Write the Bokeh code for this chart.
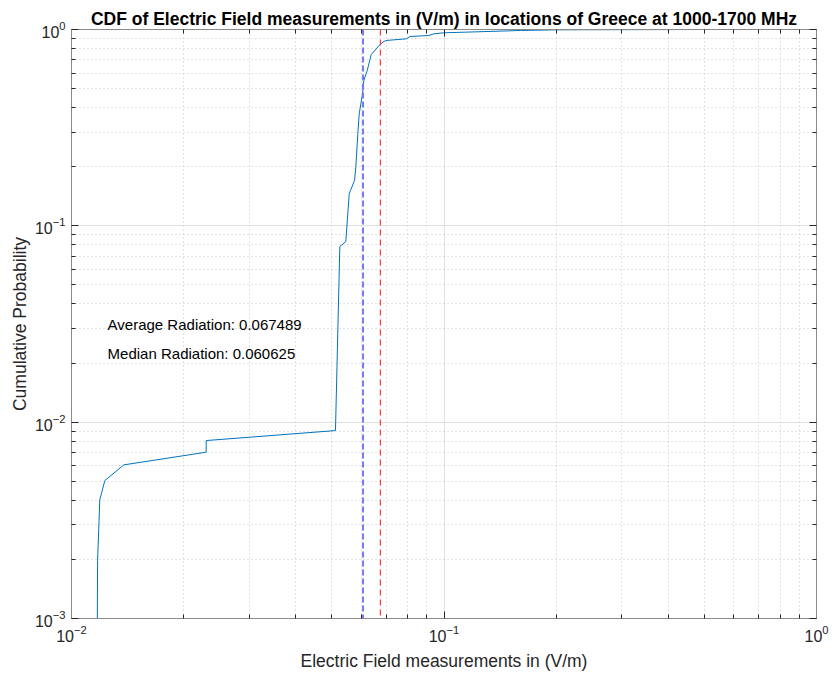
from bokeh.plotting import figure
from bokeh.models import Span, LogAxis, FixedTicker, CustomJSTickFormatter
from bokeh.core.properties import value
from bokeh.embed import file_html
from bokeh.resources import INLINE

# ---- data ----
cdf_x = [0.01173, 0.01175, 0.01191, 0.01229, 0.01382, 0.02299, 0.02299, 0.05113,
         0.05252, 0.05450, 0.05566, 0.05610, 0.05751, 0.05798, 0.05870, 0.05921,
         0.06043, 0.06092, 0.06221, 0.06377, 0.06782, 0.06978, 0.07932, 0.08094,
         0.09104, 0.09389, 0.09988, 0.1605, 0.2013, 0.5128]
cdf_y = [0.001, 0.00197, 0.00402, 0.00504, 0.00606, 0.00703, 0.00806, 0.00906,
         0.0784, 0.0832, 0.1455, 0.1513, 0.1701, 0.1988, 0.2942, 0.3720,
         0.4703, 0.5497, 0.6183, 0.7457, 0.8515, 0.8789, 0.8967, 0.9212,
         0.9320, 0.9508, 0.9620, 0.9884, 0.9965, 1.0]
mean_val = 0.067489
median_val = 0.060625
ann_x = [0.0125, 0.0125]
ann_y = [0.0315, 0.0223]
ann_text = ["Average Radiation: 0.067489", "Median Radiation: 0.060625"]
title_text = "CDF of Electric Field measurements in (V/m) in locations of Greece at 1000-1700 MHz"
x_label = "Electric Field measurements in (V/m)"
y_label = "Cumulative Probability"
x_major = [0.01, 0.1, 1.0]
y_major = [0.001, 0.01, 0.1, 1.0]

FONT = "Liberation Sans"
AX_COL = "#262626"
FRAME_COL = "#8a8a8a"

def minors(majors):
    out = []
    for m in majors[:-1]:
        out += [m * k for k in range(2, 10)]
    return out

p = figure(width=832, height=677, x_axis_type="log", y_axis_type="log",
           x_range=(0.01, 1.0), y_range=(0.001, 1.0),
           output_backend="svg", toolbar_location=None,
           min_border_left=71, min_border_right=16, min_border_top=29, min_border_bottom=59)
p.background_fill_color = "white"
p.border_fill_color = "white"
p.outline_line_color = FRAME_COL
p.outline_line_width = 1

p.title.text = title_text
p.title.align = "center"
p.title.text_font = FONT
p.title.text_font_size = "17.5px"
p.title.text_font_style = "bold"
p.title.text_color = "black"
p.title.standoff = 1
p.title.offset = 0

xt = FixedTicker(ticks=x_major, minor_ticks=minors(x_major))
yt = FixedTicker(ticks=y_major, minor_ticks=minors(y_major))

def style_axis(ax):
    ax.axis_line_color = FRAME_COL
    ax.major_tick_line_color = AX_COL
    ax.minor_tick_line_color = AX_COL
    ax.major_tick_in = 7
    ax.major_tick_out = 0
    ax.minor_tick_in = 4
    ax.minor_tick_out = 0
    ax.major_label_text_font = FONT
    ax.major_label_text_color = AX_COL
    ax.major_label_text_font_size = "16px"
    ax.axis_label_text_font = FONT
    ax.axis_label_text_font_size = "17.5px"
    ax.axis_label_text_font_style = "normal"
    ax.axis_label_text_color = AX_COL

p.xaxis.ticker = xt
p.yaxis.ticker = yt
for ax in p.xaxis + p.yaxis:
    style_axis(ax)
p.xaxis.axis_label = x_label
p.yaxis.axis_label = y_label
p.xaxis.major_label_standoff = 6
p.yaxis.major_label_standoff = 6
p.xaxis.axis_label_standoff = 6
p.yaxis.axis_label_standoff = 2

top_ax = LogAxis(ticker=xt, formatter=CustomJSTickFormatter(code="return ''"))
right_ax = LogAxis(ticker=yt, formatter=CustomJSTickFormatter(code="return ''"))
style_axis(top_ax)
style_axis(right_ax)
top_ax.major_label_standoff = 0
right_ax.major_label_standoff = 0
p.add_layout(top_ax, "above")
p.add_layout(right_ax, "right")

p.xgrid.ticker = xt
p.ygrid.ticker = yt
for g in (p.xgrid[0], p.ygrid[0]):
    g.grid_line_color = "#e0e0e0"
    g.grid_line_width = 1
    g.minor_grid_line_color = "#c4c4c4"
    g.minor_grid_line_dash = "1 3"
    g.minor_grid_line_width = 1

p.line(cdf_x, cdf_y, line_color="#0072BD", line_width=1)

p.add_layout(Span(location=median_val, dimension="height", line_color="#7878ff",
                  line_width=2, line_dash="6 3"))
p.add_layout(Span(location=mean_val, dimension="height", line_color="#ff3c3c",
                  line_width=1.2, line_dash="6 4"))

p.text(x=ann_x, y=ann_y, text=ann_text, text_font=value(FONT), text_font_size="15px",
       text_align="left", text_baseline="middle", text_color="black")

open("out.html", "w").write(file_html(p, INLINE))
